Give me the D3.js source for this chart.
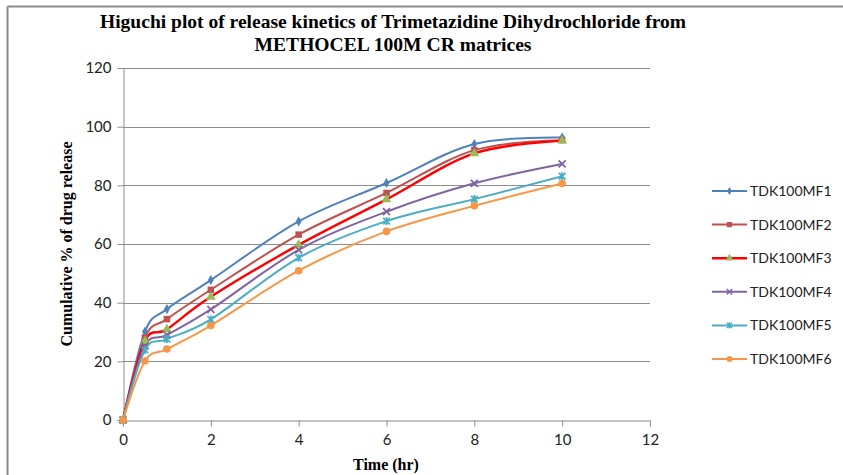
<!DOCTYPE html>
<html>
<head>
<meta charset="utf-8">
<script src="https://cdn.jsdelivr.net/npm/d3@7"></script>
<style>
html,body{margin:0;padding:0;background:#fff;}
svg{display:block;}
</style>
</head>
<body>
<svg id="chart" width="843" height="475"></svg>
<script>
const times = [0, 0.5, 1, 2, 4, 6, 8, 10];
const seriesNames = ["TDK100MF1","TDK100MF2","TDK100MF3","TDK100MF4","TDK100MF5","TDK100MF6"];
const F1 = [0, 30.1, 37.8, 47.7, 67.7, 80.8, 94.1, 96.3];
const F2 = [0, 28.1, 34.4, 44.4, 63.2, 77.4, 92.0, 95.4];
const F3 = [0, 26.9, 30.9, 42.0, 59.7, 75.2, 90.9, 95.2];
const F4 = [0, 25.2, 29.0, 37.7, 58.0, 71.0, 80.7, 87.3];
const F5 = [0, 23.9, 27.6, 34.3, 55.3, 67.8, 75.3, 83.1];
const F6 = [0, 20.1, 24.2, 32.2, 50.9, 64.3, 73.0, 80.6];
const seriesValues = [F1, F2, F3, F4, F5, F6];
const xTicks = [0, 2, 4, 6, 8, 10, 12];
const yTicks = [0, 20, 40, 60, 80, 100, 120];
const titleLines = ["Higuchi  plot of release kinetics of Trimetazidine Dihydrochloride from", "METHOCEL  100M CR matrices"];
const xTitle = "Time (hr)";
const yTitle = "Cumulative % of drug release";

const lineColors = ["#4F81BD","#C0504D","#FF0000","#8064A2","#4BACC6","#F79646"];
const markerColors = ["#4F81BD","#C0504D","#9BBB59","#8064A2","#4BACC6","#F79646"];
const lineWidths = [2, 2, 2.4, 2, 2, 2];

const svg = d3.select("#chart");
const grid = "#8c8c8c";

// outer border
svg.append("line").attr("x1",7.5).attr("x2",843).attr("y1",6.5).attr("y2",6.5).attr("stroke","#8a8a8a").attr("stroke-width",2);
svg.append("line").attr("x1",7.5).attr("x2",7.5).attr("y1",6.5).attr("y2",475).attr("stroke","#8a8a8a").attr("stroke-width",2);

const x = d3.scaleLinear().domain([0,12]).range([123,650]);
const y = d3.scaleLinear().domain([0,120]).range([420,68]);

// gridlines
svg.append("g").selectAll("line").data(yTicks.filter(d=>d>0)).join("line")
  .attr("x1",x(0)).attr("x2",x(12))
  .attr("y1",d=>Math.round(y(d))+0.5).attr("y2",d=>Math.round(y(d))+0.5)
  .attr("stroke",grid).attr("stroke-width",1);

// axes
const xAxis = svg.append("g").attr("transform",`translate(0,${Math.round(y(0))+0.5})`)
  .call(d3.axisBottom(x).tickValues(xTicks).tickSize(6).tickPadding(8).tickFormat(d3.format("d")));
const yAxis = svg.append("g").attr("transform",`translate(${Math.round(x(0))+0.5},0)`)
  .call(d3.axisLeft(y).tickValues(yTicks).tickSize(6).tickPadding(6).tickFormat(d3.format("d")));
[xAxis,yAxis].forEach(a=>{
  a.select(".domain").attr("stroke",grid);
  a.selectAll(".tick line").attr("stroke",grid);
  a.selectAll(".tick text").attr("font-family","Lato, 'Open Sans', sans-serif").attr("font-size",15).attr("fill","#222");
});

// lines
const line = d3.line().x((d,i)=>x(times[i])).y(d=>y(d)).curve(d3.curveCatmullRom.alpha(0));
seriesValues.forEach((vals,s)=>{
  svg.append("path").datum(vals).attr("d",line).attr("fill","none")
    .attr("stroke",lineColors[s]).attr("stroke-width",lineWidths[s]);
});
function drawMarker(g, s, cx, cy, scale){
  scale = scale || 1;
  const c = markerColors[s];
  const t = `translate(${cx},${cy}) scale(${scale})`;
  if (s===0) {
    g.append("path").attr("d", d3.symbol(d3.symbolDiamond, 30)()).attr("transform",t).attr("fill",c);
  } else if (s===1) {
    g.append("path").attr("d", d3.symbol(d3.symbolSquare, 42)()).attr("transform",t).attr("fill",c);
  } else if (s===2) {
    g.append("path").attr("d", d3.symbol(d3.symbolTriangle, 42)()).attr("transform",t).attr("fill",c);
  } else if (s===3) {
    g.append("path").attr("d","M-3.5,-3.5L3.5,3.5M-3.5,3.5L3.5,-3.5").attr("transform",t)
      .attr("fill","none").attr("stroke",c).attr("stroke-width",1.8);
  } else if (s===4) {
    g.append("path").attr("d","M-3.3,-3.3L3.3,3.3M-3.3,3.3L3.3,-3.3M0,-4V4").attr("transform",t)
      .attr("fill","none").attr("stroke",c).attr("stroke-width",1.8);
  } else {
    g.append("path").attr("d", d3.symbol(d3.symbolCircle, 45)()).attr("transform",t).attr("fill",c);
  }
}
seriesValues.forEach((vals,s)=>{
  const g = svg.append("g");
  vals.forEach((v,i)=>drawMarker(g, s, x(times[i]), y(v)));
});

// legend
const lg = svg.append("g");
seriesNames.forEach((name,s)=>{
  const ly = 191 + s*33.6;
  lg.append("line").attr("x1",712).attr("x2",747).attr("y1",ly).attr("y2",ly)
    .attr("stroke",lineColors[s]).attr("stroke-width",lineWidths[s]);
  drawMarker(lg, s, 729.5, ly, 0.8);
  lg.append("text").attr("x",750).attr("y",ly).attr("dy","0.35em")
    .attr("font-family","Lato, 'Open Sans', sans-serif").attr("font-size",14).attr("fill","#222").text(name);
});

// titles
svg.append("g").selectAll("text").data(titleLines).join("text")
  .attr("x",393).attr("y",(d,i)=>28+i*23).attr("text-anchor","middle")
  .attr("font-family","'Liberation Serif', 'DejaVu Serif', serif").attr("font-weight","bold")
  .attr("font-size",19).attr("fill","#000")
  .attr("textLength",(d,i)=>i===0?586:277).attr("lengthAdjust","spacingAndGlyphs")
  .text(d=>d);
svg.append("text").attr("x",386).attr("y",470).attr("text-anchor","middle")
  .attr("font-family","'Liberation Serif', serif").attr("font-weight","bold").attr("font-size",16).text(xTitle);
svg.append("text").attr("transform","translate(72,244) rotate(-90)").attr("text-anchor","middle")
  .attr("font-family","'Liberation Serif', serif").attr("font-weight","bold").attr("font-size",16).text(yTitle);
</script>
</body>
</html>
